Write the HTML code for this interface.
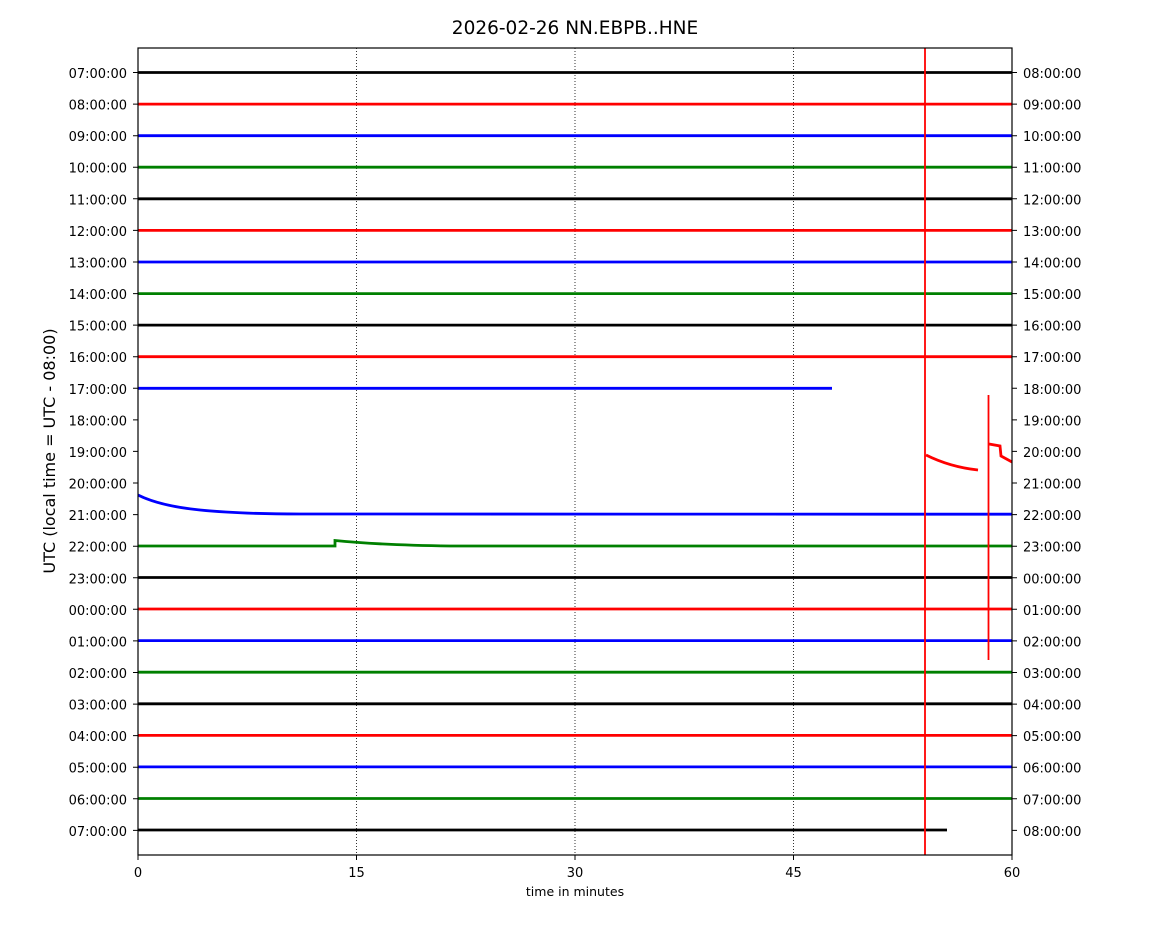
<!DOCTYPE html>
<html><head><style>body{margin:0;background:#fff}svg{display:block}text{font-family:"DejaVu Sans","Liberation Sans",sans-serif}</style></head><body>
<svg width="1150" height="950" xmlns="http://www.w3.org/2000/svg">
<text x="575" y="34" font-size="18.5" text-anchor="middle">2026-02-26 NN.EBPB..HNE</text>
<g stroke="#000" stroke-width="0.8" stroke-dasharray="1,2">
<line x1="356.5" y1="48" x2="356.5" y2="855"/><line x1="575" y1="48" x2="575" y2="855"/><line x1="793.5" y1="48" x2="793.5" y2="855"/>
</g>
<g stroke-width="2.8" fill="none">
<line x1="138" x2="1012" y1="72.5" y2="72.5" stroke="#000"/>
<line x1="138" x2="1012" y1="104.1" y2="104.1" stroke="red"/>
<line x1="138" x2="1012" y1="135.7" y2="135.7" stroke="blue"/>
<line x1="138" x2="1012" y1="167.2" y2="167.2" stroke="green"/>
<line x1="138" x2="1012" y1="198.8" y2="198.8" stroke="#000"/>
<line x1="138" x2="1012" y1="230.4" y2="230.4" stroke="red"/>
<line x1="138" x2="1012" y1="262" y2="262" stroke="blue"/>
<line x1="138" x2="1012" y1="293.6" y2="293.6" stroke="green"/>
<line x1="138" x2="1012" y1="325.1" y2="325.1" stroke="#000"/>
<line x1="138" x2="1012" y1="356.7" y2="356.7" stroke="red"/>
<line x1="138" x2="832" y1="388.3" y2="388.3" stroke="blue"/>
<path d="M138,495 Q160,506 200,510 Q240,514 300,514 L1012,514.2" stroke="blue"/>
<path d="M138,546 L335,546 L335,540.5 Q380,545 450,546 L1012,546" stroke="green"/>
<line x1="138" x2="1012" y1="577.5" y2="577.5" stroke="#000"/>
<line x1="138" x2="1012" y1="609" y2="609" stroke="red"/>
<line x1="138" x2="1012" y1="640.6" y2="640.6" stroke="blue"/>
<line x1="138" x2="1012" y1="672.2" y2="672.2" stroke="green"/>
<line x1="138" x2="1012" y1="703.8" y2="703.8" stroke="#000"/>
<line x1="138" x2="1012" y1="735.4" y2="735.4" stroke="red"/>
<line x1="138" x2="1012" y1="766.9" y2="766.9" stroke="blue"/>
<line x1="138" x2="1012" y1="798.5" y2="798.5" stroke="green"/>
<line x1="138" x2="947" y1="830" y2="830" stroke="#000"/>
<path d="M926,455 Q950,467 978,470" stroke="red"/>
<path d="M989,444 L1000,446 L1001,456 L1012,462" stroke="red"/>
</g>
<line x1="925" y1="48" x2="925" y2="855" stroke="red" stroke-width="1.8"/>
<line x1="988.5" y1="395" x2="988.5" y2="660" stroke="red" stroke-width="1.8"/>
<rect x="138" y="48" width="874" height="807" fill="none" stroke="#000" stroke-width="1.2"/>
<g font-size="13">
<g text-anchor="end">
<text x="127" y="78">07:00:00</text><text x="127" y="109.6">08:00:00</text><text x="127" y="141.2">09:00:00</text><text x="127" y="172.7">10:00:00</text><text x="127" y="204.3">11:00:00</text><text x="127" y="235.9">12:00:00</text><text x="127" y="267.5">13:00:00</text><text x="127" y="299.1">14:00:00</text><text x="127" y="330.6">15:00:00</text><text x="127" y="362.2">16:00:00</text><text x="127" y="393.8">17:00:00</text><text x="127" y="425.4">18:00:00</text><text x="127" y="456.9">19:00:00</text><text x="127" y="488.5">20:00:00</text><text x="127" y="520.1">21:00:00</text><text x="127" y="551.7">22:00:00</text><text x="127" y="583.3">23:00:00</text><text x="127" y="614.8">00:00:00</text><text x="127" y="646.4">01:00:00</text><text x="127" y="678">02:00:00</text><text x="127" y="709.6">03:00:00</text><text x="127" y="741.1">04:00:00</text><text x="127" y="772.7">05:00:00</text><text x="127" y="804.3">06:00:00</text><text x="127" y="835.9">07:00:00</text>
</g>
<g>
<text x="1023" y="78">08:00:00</text><text x="1023" y="109.6">09:00:00</text><text x="1023" y="141.2">10:00:00</text><text x="1023" y="172.7">11:00:00</text><text x="1023" y="204.3">12:00:00</text><text x="1023" y="235.9">13:00:00</text><text x="1023" y="267.5">14:00:00</text><text x="1023" y="299.1">15:00:00</text><text x="1023" y="330.6">16:00:00</text><text x="1023" y="362.2">17:00:00</text><text x="1023" y="393.8">18:00:00</text><text x="1023" y="425.4">19:00:00</text><text x="1023" y="456.9">20:00:00</text><text x="1023" y="488.5">21:00:00</text><text x="1023" y="520.1">22:00:00</text><text x="1023" y="551.7">23:00:00</text><text x="1023" y="583.3">00:00:00</text><text x="1023" y="614.8">01:00:00</text><text x="1023" y="646.4">02:00:00</text><text x="1023" y="678">03:00:00</text><text x="1023" y="709.6">04:00:00</text><text x="1023" y="741.1">05:00:00</text><text x="1023" y="772.7">06:00:00</text><text x="1023" y="804.3">07:00:00</text><text x="1023" y="835.9">08:00:00</text>
</g>
<g text-anchor="middle">
<text x="138" y="877">0</text><text x="356.5" y="877">15</text><text x="575" y="877">30</text><text x="793.5" y="877">45</text><text x="1012" y="877">60</text>
<text x="575" y="896" font-size="12.5">time in minutes</text>
</g>
</g>
<g stroke="#000" stroke-width="1">
<path d="M138,855v5M356.5,855v5M575,855v5M793.5,855v5M1012,855v5"/>
<path d="M133,72.5h5M133,104.1h5M133,135.7h5M133,167.2h5M133,198.8h5M133,230.4h5M133,262h5M133,293.6h5M133,325.1h5M133,356.7h5M133,388.3h5M133,419.9h5M133,451.4h5M133,483h5M133,514.6h5M133,546.2h5M133,577.8h5M133,609.3h5M133,640.9h5M133,672.5h5M133,704.1h5M133,735.6h5M133,767.2h5M133,798.8h5M133,830.4h5"/>
<path d="M1012,72.5h5M1012,104.1h5M1012,135.7h5M1012,167.2h5M1012,198.8h5M1012,230.4h5M1012,262h5M1012,293.6h5M1012,325.1h5M1012,356.7h5M1012,388.3h5M1012,419.9h5M1012,451.4h5M1012,483h5M1012,514.6h5M1012,546.2h5M1012,577.8h5M1012,609.3h5M1012,640.9h5M1012,672.5h5M1012,704.1h5M1012,735.6h5M1012,767.2h5M1012,798.8h5M1012,830.4h5"/>
</g>
<text transform="translate(55,451) rotate(-90)" font-size="16" text-anchor="middle">UTC (local time = UTC - 08:00)</text>
</svg>
</body></html>
